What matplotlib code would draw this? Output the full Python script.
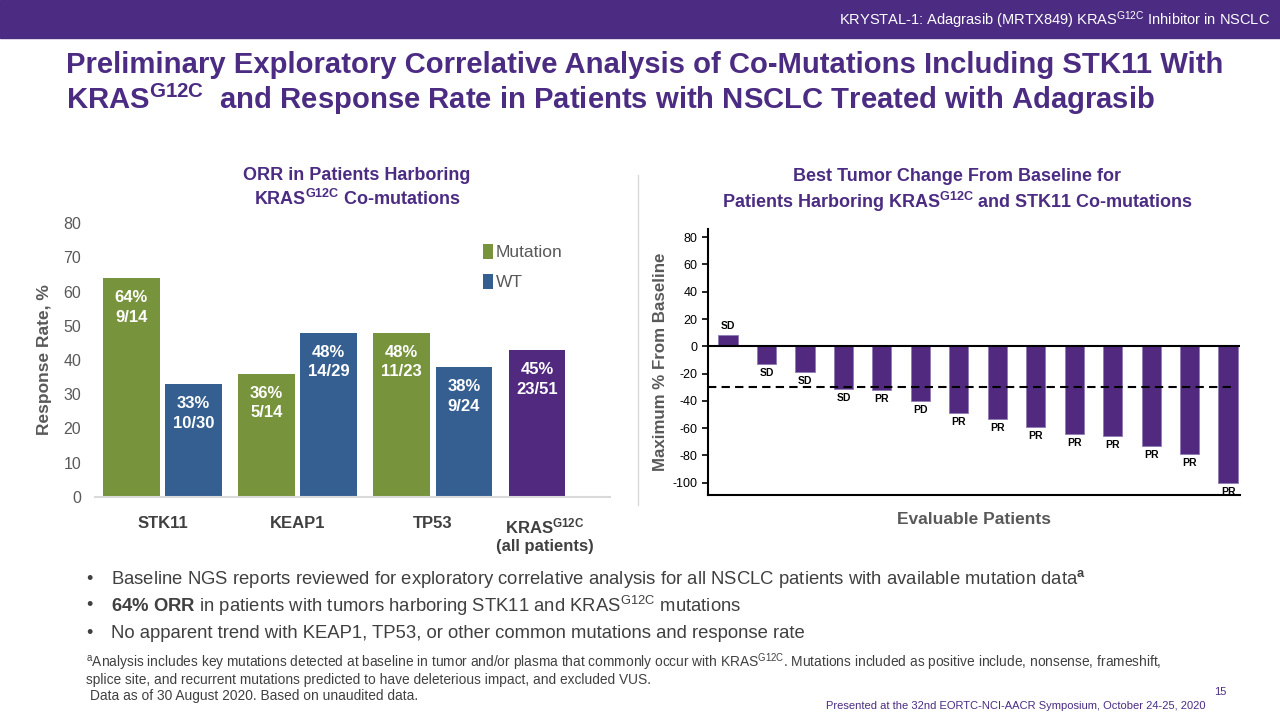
import numpy as np
import matplotlib
matplotlib.use('Agg')
from matplotlib import pyplot as plt
from matplotlib.patches import Rectangle

plt.rcParams['font.family'] = ['Liberation Sans', 'DejaVu Sans']
plt.rcParams['mathtext.fontset'] = 'custom'
plt.rcParams['mathtext.rm'] = 'Liberation Sans'
plt.rcParams['mathtext.it'] = 'Liberation Sans:italic'
plt.rcParams['mathtext.bf'] = 'Liberation Sans:bold'
plt.rcParams['axes.unicode_minus'] = False

# ---- data: ORR by co-mutation ----
genes = ['STK11', 'KEAP1', 'TP53']
mut_orr = [64, 36, 48]
wt_orr = [33, 48, 38]
mut_lbl = ['64%\n9/14', '36%\n5/14', '48%\n11/23']
wt_lbl = ['33%\n10/30', '48%\n14/29', '38%\n9/24']
all_orr = 43
all_lbl = '45%\n23/51'
cat_labels = ['STK11', 'KEAP1', 'TP53', 'KRAS$^{\\mathbf{G12C}}$\n(all patients)']

# ---- data: waterfall ----
change = [8, -13, -19, -31, -32, -40, -49, -53, -59, -64, -66, -73, -79, -100]
resp = ['SD', 'SD', 'SD', 'SD', 'PR', 'PD', 'PR', 'PR', 'PR', 'PR', 'PR', 'PR', 'PR', 'PR']
pr_cut = -30

purple = '#4B2C82'
green = '#77933C'
blue = '#365F91'
barpurple = '#512A80'
gray = '#595959'
dgray = '#404040'

fig = plt.figure(figsize=(12.8, 7.2), dpi=100)

# header band
fig.patches.append(Rectangle((0, 1 - 38/720), 1, 38/720, transform=fig.transFigure,
                             color=purple, zorder=0))
fig.text(1270/1280, 1 - 20/720, 'KRYSTAL-1: Adagrasib (MRTX849) KRAS$^{\\mathrm{G12C}}$ Inhibitor in NSCLC',
         color='white', fontsize=10.5, ha='right', va='center')

fig.text(66/1280, 1 - 65/720,
         'Preliminary Exploratory Correlative Analysis of Co-Mutations Including STK11 With',
         color=purple, fontsize=21.1, fontweight='bold', va='center')
fig.text(66/1280, 1 - 99/720,
         'KRAS$^{\\mathbf{G12C}}$  and Response Rate in Patients with NSCLC Treated with Adagrasib',
         color=purple, fontsize=21.1, fontweight='bold', va='center')

# ---- left chart ----
ax = fig.add_axes([95/1280, 1 - 497/720, 515/1280, 274/720])
x = np.arange(len(genes))
w = 0.42
off = 0.23
ax.bar(x - off, mut_orr, w, color=green, label='Mutation')
ax.bar(x + off, wt_orr, w, color=blue, label='WT')
ax.bar([len(genes) - off], [all_orr], w, color=barpurple)
for xi, v, t in zip(x - off, mut_orr, mut_lbl):
    ax.text(xi, v - 3.5, t, color='white', fontsize=12, fontweight='bold', ha='center', va='top',
            linespacing=1.4)
for xi, v, t in zip(x + off, wt_orr, wt_lbl):
    ax.text(xi, v - 3.5, t, color='white', fontsize=12, fontweight='bold', ha='center', va='top',
            linespacing=1.4)
ax.text(len(genes) - off, all_orr - 3.5, all_lbl, color='white', fontsize=12, fontweight='bold',
        ha='center', va='top', linespacing=1.4)
ax.set_xlim(-0.5, 3.31)
ax.set_ylim(0, 80)
ax.set_yticks(range(0, 81, 10))
ax.set_xticks([0, 1, 2, 3 - 0.17])
for sp in ['top', 'right', 'left']:
    ax.spines[sp].set_visible(False)
ax.spines['bottom'].set_color('#D9D9D9')
ax.spines['bottom'].set_linewidth(1.5)
ax.tick_params(axis='both', length=0, labelsize=11.5, colors=gray, pad=10)
ax.tick_params(axis='x', pad=14)
ax.set_xticklabels(cat_labels, fontsize=12, fontweight='bold', color=dgray, linespacing=1.2)
ax.set_ylabel('Response Rate, %', fontsize=12.5, fontweight='bold', color=gray, labelpad=8)
leg = ax.legend(loc='upper left', bbox_to_anchor=(0.723, 0.98), frameon=False, fontsize=12.5,
                handlelength=0.6, handleheight=0.9, handletextpad=0.15, labelspacing=0.8)
for t in leg.get_texts():
    t.set_color(gray)
fig.text(357/1280, 1 - 188/720, 'ORR in Patients Harboring\nKRAS$^{\\mathbf{G12C}}$ Co-mutations',
         color=purple, fontsize=13, fontweight='bold', ha='center', va='center', linespacing=1.25)

# separator
fig.add_artist(plt.Line2D([638/1280, 638/1280], [1 - 175/720, 1 - 505/720],
                          transform=fig.transFigure, color='#D9D9D9', lw=1))

# ---- right chart ----
ax2 = fig.add_axes([708/1280, 1 - 495/720, 532/1280, 266/720])
xp = np.arange(len(change))
ax2.bar(xp, change, 0.5, color=barpurple, edgecolor='#8E7BB5', linewidth=0.6, zorder=2)
ax2.axhline(0, color='black', lw=1.5, zorder=3)
ax2.plot([-0.52, 13.1], [pr_cut, pr_cut], color='black', lw=1.5, ls=(0, (4, 2.5)), zorder=4)
for xi, v, r in zip(xp, change, resp):
    if v > 0:
        ax2.text(xi, v + 3, r, fontsize=7.5, fontweight='bold', ha='center', va='bottom')
    else:
        ax2.text(xi, v - 3, r, fontsize=7.5, fontweight='bold', ha='center', va='top')
ax2.set_xlim(-0.52, 13.31)
ax2.set_ylim(-109, 86)
ax2.set_yticks(range(-100, 81, 20))
ax2.set_xticks([])
for sp in ['top', 'right']:
    ax2.spines[sp].set_visible(False)
ax2.spines['left'].set_linewidth(1.5)
ax2.spines['bottom'].set_linewidth(1.5)
ax2.tick_params(axis='y', length=4, width=1.2, labelsize=9, colors='black')
ax2.set_ylabel('Maximum % From Baseline', fontsize=12.2, fontweight='bold', color=gray, labelpad=3)
ax2.set_xlabel('Evaluable Patients', fontsize=12.5, fontweight='bold', color=gray, labelpad=12)
fig.text(957/1280, 1 - 191/720,
         'Best Tumor Change From Baseline for\nPatients Harboring KRAS$^{\\mathbf{G12C}}$ and STK11 Co-mutations',
         color=purple, fontsize=13, fontweight='bold', ha='center', va='center', linespacing=1.25)

# ---- bullets ----
bullets = ['Baseline NGS reports reviewed for exploratory correlative analysis for all NSCLC patients with available mutation data$^{\\mathbf{a}}$',
           '$\\mathbf{64\\%\\ ORR}$ in patients with tumors harboring STK11 and KRAS$^{\\mathrm{G12C}}$ mutations',
           'No apparent trend with KEAP1, TP53, or other common mutations and response rate']
for i, b in enumerate(bullets):
    yy = 1 - (579 + i * 27) / 720
    fig.text(86/1280, yy, '\u2022', fontsize=13, color=dgray, va='center')
    fig.text(111/1280, yy, b, fontsize=13.3, color=dgray, va='center')

fig.text(86/1280, 1 - 662/720,
         '$^{\\mathrm{a}}$Analysis includes key mutations detected at baseline in tumor and/or plasma that commonly occur with KRAS$^{\\mathrm{G12C}}$. Mutations included as positive include, nonsense, frameshift,',
         fontsize=9.9, color=dgray, va='center')
fig.text(86/1280, 1 - 680/720,
         'splice site, and recurrent mutations predicted to have deleterious impact, and excluded VUS.',
         fontsize=9.9, color=dgray, va='center')
fig.text(90/1280, 1 - 696/720, 'Data as of 30 August 2020. Based on unaudited data.',
         fontsize=9.9, color=dgray, va='center')
fig.text(1226/1280, 1 - 692/720, '15', fontsize=8, color=purple, ha='right', va='center')
fig.text(1205/1280, 1 - 706/720, 'Presented at the 32nd EORTC-NCI-AACR Symposium, October 24-25, 2020',
         fontsize=8, color=purple, ha='right', va='center')

fig.savefig('out.png', dpi=100)
